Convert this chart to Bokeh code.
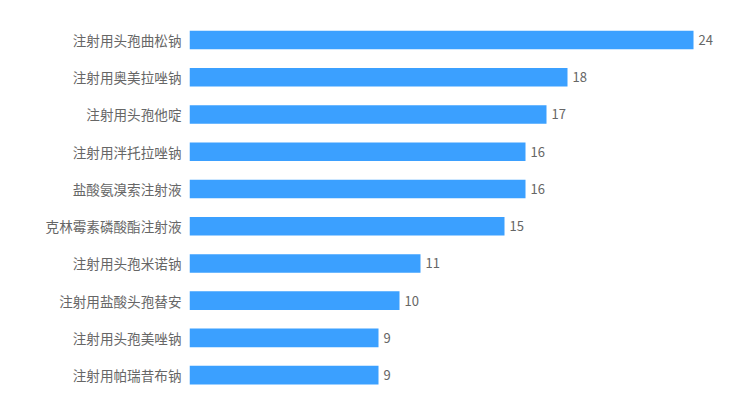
import numpy as np
from bokeh.plotting import figure
from bokeh.models import ColumnDataSource, Range1d, FixedTicker
from bokeh.core.properties import value
from bokeh.embed import file_html
from bokeh.resources import INLINE

categories = ["注射用头孢曲松钠", "注射用奥美拉唑钠", "注射用头孢他啶", "注射用泮托拉唑钠",
              "盐酸氨溴索注射液", "克林霉素磷酸酯注射液", "注射用头孢米诺钠",
              "注射用盐酸头孢替安", "注射用头孢美唑钠", "注射用帕瑞昔布钠"]
values = [24, 18, 17, 16, 16, 15, 11, 10, 9, 9]

idx = list(range(len(categories)))
src = ColumnDataSource(dict(y=idx, v=values, lab=[str(v) for v in values]))

p = figure(width=726, height=390, output_backend="svg", toolbar_location=None,
           x_range=Range1d(0, 25.571), y_range=Range1d(9.412, -0.497),
           min_border_left=189, min_border_right=0, min_border_top=21, min_border_bottom=0)
p.outline_line_color = None
p.xgrid.visible = False
p.ygrid.visible = False
p.xaxis.visible = False

p.hbar(y="y", right="v", left=0, height=0.5, source=src, color="#3ba0ff", line_color=None)
p.text(x="v", y="y", text="lab", source=src, x_offset=5, text_baseline="middle",
       text_align="left", text_font=value("Noto Sans CJK SC"), text_font_size="13px",
       text_color="#666666")

ax = p.yaxis[0]
ax.ticker = FixedTicker(ticks=idx)
ax.major_label_overrides = {i: c for i, c in zip(idx, categories)}
ax.axis_line_color = None
ax.major_tick_line_color = None
ax.minor_tick_line_color = None
ax.major_tick_out = 0
ax.major_tick_in = 0
ax.major_label_standoff = 8
ax.major_label_text_font = "Noto Sans CJK SC"
ax.major_label_text_font_size = "13.6px"
ax.major_label_text_color = "#666666"

open("out.html", "w").write(file_html(p, INLINE))
